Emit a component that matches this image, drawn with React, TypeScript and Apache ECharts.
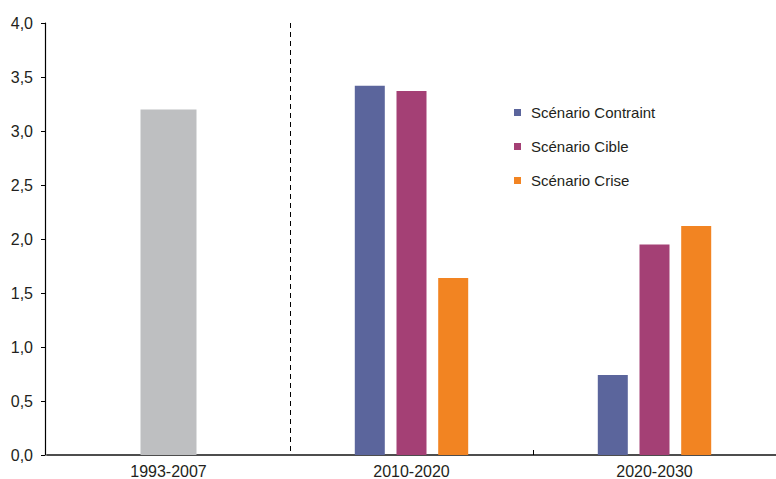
import React, { useEffect, useRef } from "react";
import * as echarts from "echarts";

const categories = ["1993-2007", "2010-2020", "2020-2030"];
const historique = [3.2, null, null];
const contraint = [null, 3.42, 0.74];
const cible = [null, 3.37, 1.95];
const crise = [null, 1.64, 2.12];
const seriesNames = ["Scénario Contraint", "Scénario Cible", "Scénario Crise"];
// category index whose left boundary carries the dashed separator / the tick
const separatorAt = [1];
const tickAt = [2];

export default function App() {
  const ref = useRef<HTMLDivElement>(null);
  useEffect(() => {
    const chart = echarts.init(ref.current!, null, { renderer: "svg" });
    const textColor = "#231f20";
    chart.setOption({
      animation: false,
      grid: { left: 47, top: 23, width: 733, bottom: 24, containLabel: false },
      legend: {
        data: seriesNames,
        orient: "vertical",
        left: 514,
        top: 105,
        padding: 0,
        icon: "rect",
        itemWidth: 7,
        itemHeight: 7,
        itemGap: 19,
        textStyle: {
          color: textColor,
          fontSize: 15,
          fontFamily: "'Liberation Sans', Arial, sans-serif",
          padding: [0, 0, 0, 5],
        },
      },
      xAxis: [
        {
          type: "category",
          data: categories,
          axisLine: { lineStyle: { color: "#4d4d4d", width: 2 } },
          axisTick: { show: false },
          axisLabel: {
            color: textColor,
            fontSize: 16,
            fontFamily: "'Liberation Sans', Arial, sans-serif",
            margin: 8,
          },
          splitLine: { show: false },
        },
        {
          type: "category",
          data: categories,
          show: false,
        },
      ],
      yAxis: {
        type: "value",
        min: 0,
        max: 4,
        interval: 0.5,
        offset: 2,
        axisLine: { show: true, lineStyle: { color: "#000", width: 1.2 } },
        axisTick: { show: true, length: 4, lineStyle: { color: "#000" } },
        splitLine: { show: false },
        axisLabel: {
          color: textColor,
          fontSize: 16,
          fontFamily: "'Liberation Sans', Arial, sans-serif",
          margin: 12,
          formatter: (v: number) => v.toFixed(1).replace(".", ","),
        },
      },
      series: [
        {
          name: "Historique",
          type: "bar",
          xAxisIndex: 1,
          data: historique,
          barWidth: 56,
          itemStyle: { color: "#bebfc1" },
        },
        {
          name: seriesNames[0],
          type: "bar",
          data: contraint,
          barWidth: 30,
          barGap: "39%",
          itemStyle: { color: "#5b659c" },
        },
        {
          name: seriesNames[1],
          type: "bar",
          data: cible,
          barWidth: 30,
          barGap: "39%",
          itemStyle: { color: "#a44075" },
        },
        {
          name: seriesNames[2],
          type: "bar",
          data: crise,
          barWidth: 30,
          barGap: "39%",
          itemStyle: { color: "#f28422" },
        },
        {
          name: "separator",
          type: "custom",
          silent: true,
          z: 5,
          data: separatorAt.map((i) => [i]),
          renderItem: (params: any, api: any) => {
            const c = api.coord([api.value(0), 0]);
            const w = api.size([1, 0])[0];
            const x = Math.round(c[0] - w / 2) + 0.5;
            const top = api.coord([api.value(0), 4])[1];
            return {
              type: "line",
              shape: { x1: x, y1: top, x2: x, y2: c[1] },
              style: { stroke: "#000", lineWidth: 1, lineDash: [5, 4] },
            };
          },
        },
        {
          name: "tick",
          type: "custom",
          silent: true,
          z: 5,
          data: tickAt.map((i) => [i]),
          renderItem: (params: any, api: any) => {
            const c = api.coord([api.value(0), 0]);
            const w = api.size([1, 0])[0];
            const x = Math.round(c[0] - w / 2) + 0.5;
            return {
              type: "line",
              shape: { x1: x, y1: c[1] - 5, x2: x, y2: c[1] },
              style: { stroke: "#000", lineWidth: 1 },
            };
          },
        },
      ],
    });
    return () => chart.dispose();
  }, []);
  return (
    <div
      ref={ref}
      style={{ position: "fixed", left: 0, top: 0, width: 776, height: 479, background: "#fff" }}
    />
  );
}
